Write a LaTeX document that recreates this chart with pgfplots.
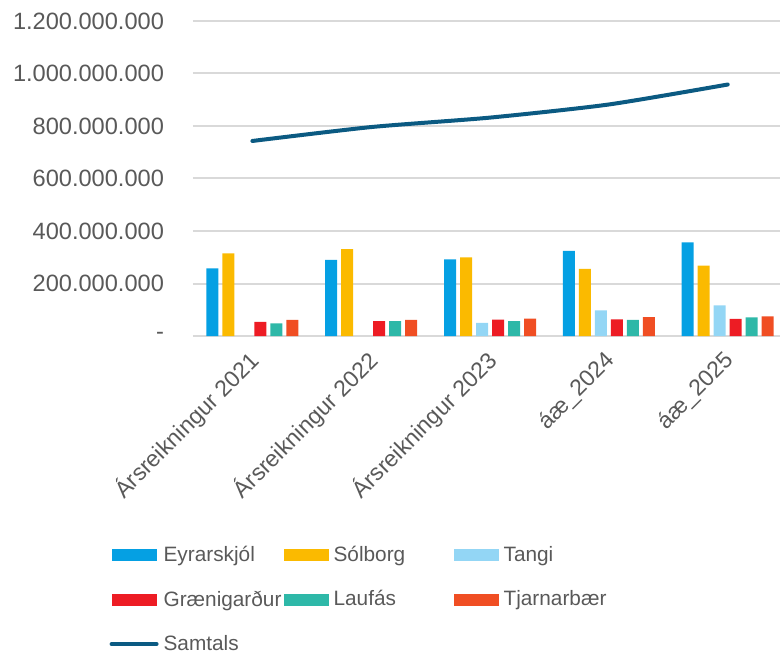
\documentclass[border=0pt]{standalone}
\usepackage{pgfplots}
\pgfplotsset{compat=1.18}
\usepackage{fontspec}
\setmainfont{Liberation Sans}
\definecolor{txt}{HTML}{595959}
\definecolor{grd}{HTML}{D9D9D9}
\definecolor{cE}{HTML}{05A0E3}
\definecolor{cS}{HTML}{FBBA00}
\definecolor{cT}{HTML}{93D6F5}
\definecolor{cG}{HTML}{ED1C24}
\definecolor{cL}{HTML}{2EB8A8}
\definecolor{cJ}{HTML}{F04E23}
\definecolor{cM}{HTML}{0B5A82}
\pgfplotsset{
  mybarleg/.style={legend image code/.code={\fill[##1] (0pt,-3pt) rectangle (22.5pt,3pt);}},
  mylineleg/.style={legend image code/.code={\draw[##1] (0pt,0pt) -- (22.5pt,0pt);}},
}
\begin{document}
\begin{tikzpicture}
\begin{axis}[
  scale only axis,
  width=293.5pt, height=157.5pt,
  xmin=-0.5, xmax=4.44,
  ymin=0, ymax=1.2e9,
  scaled y ticks=false,
  axis line style={draw=none},
  major tick length=0pt,
  ymajorgrids,
  grid style={grd, line width=1pt},
  ytick={0,2e8,4e8,6e8,8e8,1e9,1.2e9},
  yticklabels={-,200.000.000,400.000.000,600.000.000,800.000.000,1.000.000.000,1.200.000.000},
  yticklabel style={font=\fontsize{11.8}{14}\selectfont, text=txt, xshift=-11pt},
  xtick={0,1,2,3,4},
  xticklabels={Ársreikningur 2021,Ársreikningur 2022,Ársreikningur 2023,áæ\_2024,áæ\_2025},
  xticklabel style={font=\fontsize{11.5}{13}\selectfont, text=txt, rotate=45, anchor=east, xshift=-3pt, yshift=-8.5pt},
  legend columns=3,
  legend style={draw=none, fill=none, at={(-0.153,-0.641)}, anchor=north west,
    font=\fontsize{10.4}{12.5}\selectfont, text=txt,
    nodes={text width=60pt, align=left, inner xsep=0pt},
    /tikz/every odd column/.append style={column sep=2.5pt},
    /tikz/every even column/.append style={column sep=0pt},
    row sep=9pt},
  legend cell align=left,
]
\addplot[ybar, bar width=6pt, bar shift=-20pt, fill=cE, draw=none, mybarleg] coordinates {(0,258e6) (1,290e6) (2,292e6) (3,324e6) (4,357e6)};
\addlegendentry{Eyrarskjól}
\addplot[ybar, bar width=6pt, bar shift=-12pt, fill=cS, draw=none, mybarleg] coordinates {(0,315e6) (1,331e6) (2,300e6) (3,256e6) (4,268e6)};
\addlegendentry{Sólborg}
\addplot[ybar, bar width=6pt, bar shift=-4pt, fill=cT, draw=none, mybarleg] coordinates {(2,50e6) (3,98e6) (4,117e6)};
\addlegendentry{Tangi}
\addplot[ybar, bar width=6pt, bar shift=4pt, fill=cG, draw=none, mybarleg] coordinates {(0,54e6) (1,57e6) (2,62e6) (3,63e6) (4,65e6)};
\addlegendentry{Grænigarður}
\addplot[ybar, bar width=6pt, bar shift=12pt, fill=cL, draw=none, mybarleg] coordinates {(0,48e6) (1,57e6) (2,57e6) (3,61e6) (4,71e6)};
\addlegendentry{Laufás}
\addplot[ybar, bar width=6pt, bar shift=20pt, fill=cJ, draw=none, mybarleg] coordinates {(0,61e6) (1,61e6) (2,66e6) (3,72e6) (4,75e6)};
\addlegendentry{Tjarnarbær}
\addplot[cM, line width=2pt, line cap=round, smooth, tension=0.4, mark=none, mylineleg] coordinates {(0,743e6) (1,796e6) (2,832e6) (3,882e6) (4,958e6)};
\addlegendentry{Samtals}
\end{axis}
\pgfresetboundingbox
\path ([xshift=-96.5pt,yshift=-158pt]current axis.south west) rectangle ([yshift=10.5pt]current axis.north east);
\end{tikzpicture}
\end{document}
